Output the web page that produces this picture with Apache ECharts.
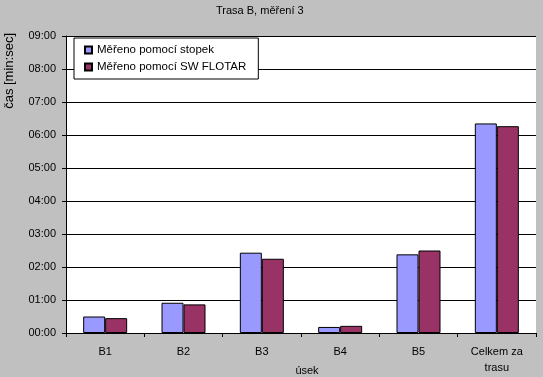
<!DOCTYPE html>
<html>
<head>
<meta charset="utf-8">
<script src="https://cdn.jsdelivr.net/npm/echarts@6/dist/echarts.min.js"></script>
<style>
html,body{margin:0;padding:0;background:#c0c0c0;}
#c{width:543px;height:377px;}
</style>
</head>
<body>
<div id="c"></div>
<script>
// Data (values in seconds)
var categories = ['B1', 'B2', 'B3', 'B4', 'B5', 'Celkem za\ntrasu'];
var seriesNames = ['Měřeno pomocí stopek', 'Měřeno pomocí SW FLOTAR'];
var stopky = [30, 55, 146, 11, 143, 381];
var flotar = [27, 52, 135, 13, 150, 376];
var yTicks = ['00:00','01:00','02:00','03:00','04:00','05:00','06:00','07:00','08:00','09:00'];
var titleText = 'Trasa B, měření 3';
var yName = 'čas [min:sec]';
var xName = 'úsek';

var FONT = 'Liberation Sans, Arial, sans-serif';
var chart = echarts.init(document.getElementById('c'), null, {renderer: 'canvas'});
chart.setOption({
  backgroundColor: '#c0c0c0',
  animation: false,
  textStyle: {fontFamily: FONT},
  grid: {left: 66, right: 7, top: 36, bottom: 44, show: true, backgroundColor: '#ffffff', borderWidth: 0,
         containLabel: false, outerBoundsMode: 'none'},
  graphic: [
    {type: 'text', left: 216, top: 5, style: {text: titleText, fontSize: 11, fontFamily: FONT, fill: '#000'}},
    {type: 'text', left: 3, top: 33, rotation: Math.PI / 2,
     style: {text: yName, fontSize: 13, fontFamily: FONT, fill: '#000'}}
  ],
  legend: {
    orient: 'vertical', left: 74, top: 38,
    backgroundColor: '#ffffff', borderColor: '#000', borderWidth: 1,
    padding: [6, 12, 6, 10], itemGap: 5, itemWidth: 7, itemHeight: 7,
    icon: 'rect',
    textStyle: {fontSize: 11.5, fontFamily: FONT, color: '#000'},
    data: seriesNames
  },
  xAxis: {
    type: 'category', data: categories,
    name: xName, nameLocation: 'middle', nameGap: 32, nameMoveOverlap: false,
    nameTextStyle: {fontSize: 11, color: '#000', fontFamily: FONT, padding: [0, 0, 0, 12]},
    axisLine: {lineStyle: {color: '#000', width: 1}},
    axisTick: {show: true, length: 4, lineStyle: {color: '#000'}, interval: 0},
    axisLabel: {fontSize: 11, color: '#000', margin: 11, lineHeight: 16, interval: 0},
    splitLine: {show: false}
  },
  yAxis: {
    type: 'value', min: 0, max: 540, interval: 60,
    axisLine: {show: true, lineStyle: {color: '#000', width: 1}},
    axisTick: {show: true, length: 4, lineStyle: {color: '#000'}},
    axisLabel: {fontSize: 11, color: '#000', margin: 10,
      formatter: function (v) { return yTicks[Math.round(v / 60)]; }},
    splitLine: {show: true, lineStyle: {color: '#000', width: 1}}
  },
  series: [
    {name: seriesNames[0], type: 'bar', data: stopky, barWidth: 22, barGap: '0%',
     itemStyle: {color: '#9999ff', borderColor: '#000', borderWidth: 1}},
    {name: seriesNames[1], type: 'bar', data: flotar, barWidth: 22, barGap: '0%',
     itemStyle: {color: '#993366', borderColor: '#000', borderWidth: 1}}
  ]
});
</script>
</body>
</html>
